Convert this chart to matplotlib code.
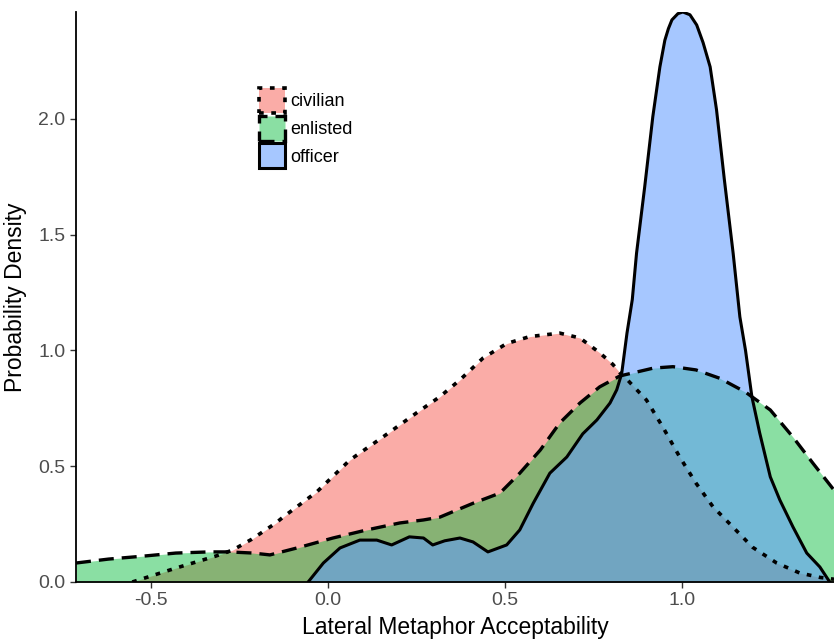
import matplotlib.pyplot as plt
from matplotlib.colors import to_rgba
from matplotlib.patches import Patch

plt.rcParams['font.family'] = ['Liberation Sans', 'DejaVu Sans']

# density curves
civ_x = [-0.553, -0.43, -0.317, -0.269, -0.215, -0.147, -0.127, -0.031, 0.062, 0.155,
         0.25, 0.316, 0.373, 0.438, 0.505, 0.57, 0.655, 0.712, 0.768, 0.805, 0.83, 0.845,
         0.90, 0.946, 0.994, 1.04, 1.088, 1.144, 1.2, 1.268, 1.333, 1.39, 1.43]
civ_y = [0.0, 0.06, 0.112, 0.138, 0.185, 0.255, 0.28, 0.39, 0.527, 0.626,
         0.73, 0.80, 0.873, 0.967, 1.03, 1.06, 1.075, 1.054, 0.99, 0.94, 0.895, 0.875,
         0.786, 0.67, 0.54, 0.427, 0.325, 0.238, 0.15, 0.082, 0.039, 0.02, 0.012]

enl_x = [-0.712, -0.62, -0.52, -0.43, -0.336, -0.28, -0.212, -0.164, -0.08, 0.014,
         0.11, 0.203, 0.27, 0.316, 0.41, 0.486, 0.542, 0.6, 0.655, 0.712, 0.768, 0.825,
         0.853, 0.92, 0.975, 1.04, 1.107, 1.18, 1.25, 1.314, 1.37, 1.43]
enl_y = [0.082, 0.099, 0.112, 0.125, 0.13, 0.13, 0.125, 0.117, 0.15, 0.19,
         0.225, 0.255, 0.268, 0.28, 0.34, 0.384, 0.47, 0.57, 0.687, 0.773, 0.843, 0.89,
         0.90, 0.924, 0.93, 0.916, 0.88, 0.82, 0.743, 0.626, 0.514, 0.397]

off_x = [-0.056, -0.013, 0.034, 0.09, 0.138, 0.18, 0.23, 0.27, 0.296, 0.33, 0.373,
         0.41, 0.452, 0.505, 0.542, 0.58, 0.627, 0.675, 0.72, 0.76, 0.797, 0.816, 0.83,
         0.845, 0.86, 0.872, 0.895, 0.918, 0.938, 0.952, 0.962, 0.972, 0.989, 1.003, 1.023,
         1.042, 1.06, 1.08, 1.098, 1.12, 1.145, 1.164, 1.18, 1.198, 1.22, 1.25, 1.277,
         1.314, 1.353, 1.39, 1.418]
off_y = [0.0, 0.082, 0.147, 0.181, 0.181, 0.16, 0.195, 0.19, 0.16, 0.178, 0.19,
         0.173, 0.13, 0.16, 0.225, 0.34, 0.47, 0.54, 0.64, 0.70, 0.773, 0.83, 0.90,
         1.075, 1.22, 1.42, 1.706, 2.01, 2.225, 2.34, 2.39, 2.428, 2.455, 2.462, 2.45,
         2.406, 2.33, 2.225, 2.04, 1.74, 1.42, 1.145, 1.0, 0.80, 0.644, 0.454, 0.354,
         0.238, 0.125, 0.065, 0.0]

groups = ['civilian', 'enlisted', 'officer']
fills = ['#F8766D', '#00BA38', '#619CFF']
alphas = [0.6, 0.46, 0.56]
styles = [(0, (1.3, 2.1)), (0, (4.5, 2.4)), '-']
widths = [2.6, 2.4, 2.2]

fig = plt.figure(figsize=(8.34, 6.4), dpi=100)
ax = fig.add_axes([76 / 834, 58 / 640, 758 / 834, 570 / 640])

curves = [(civ_x, civ_y), (enl_x, enl_y), (off_x, off_y)]
handles = []
for (xs, ys), name, c, a, ls, lw in zip(curves, groups, fills, alphas, styles, widths):
    ax.fill_between(xs, 0, ys, color=c, alpha=a, linewidth=0)
    ax.plot(xs, ys, color='black', linestyle=ls, linewidth=lw, solid_capstyle='round')
    handles.append(Patch(facecolor=to_rgba(c, a), edgecolor='black', linestyle=ls,
                         linewidth=lw, label=name))

ax.set_xlim(-0.712, 1.43)
ax.set_ylim(0, 2.462)
ax.set_xticks([-0.5, 0.0, 0.5, 1.0])
ax.set_yticks([0.0, 0.5, 1.0, 1.5, 2.0])
ax.set_xticklabels(['-0.5', '0.0', '0.5', '1.0'])
ax.set_yticklabels(['0.0', '0.5', '1.0', '1.5', '2.0'])
ax.tick_params(labelsize=14, labelcolor='#4D4D4D', color='#333333', length=4, width=1)
for s in ['top', 'right']:
    ax.spines[s].set_visible(False)
for s in ['left', 'bottom']:
    ax.spines[s].set_linewidth(1.3)
    ax.spines[s].set_color('black')

ax.set_xlabel('Lateral Metaphor Acceptability', fontsize=16.5, labelpad=5)
ax.set_ylabel('Probability Density', fontsize=16.5, labelpad=8)

fig.legend(handles=handles, loc='upper left', bbox_to_anchor=(259 / 834, 1 - 88 / 640),
           frameon=False, fontsize=13, handlelength=1.45, handleheight=1.75,
           handletextpad=0.3, labelspacing=0.15, borderpad=0, borderaxespad=0)

fig.savefig('out.png', dpi=100)
